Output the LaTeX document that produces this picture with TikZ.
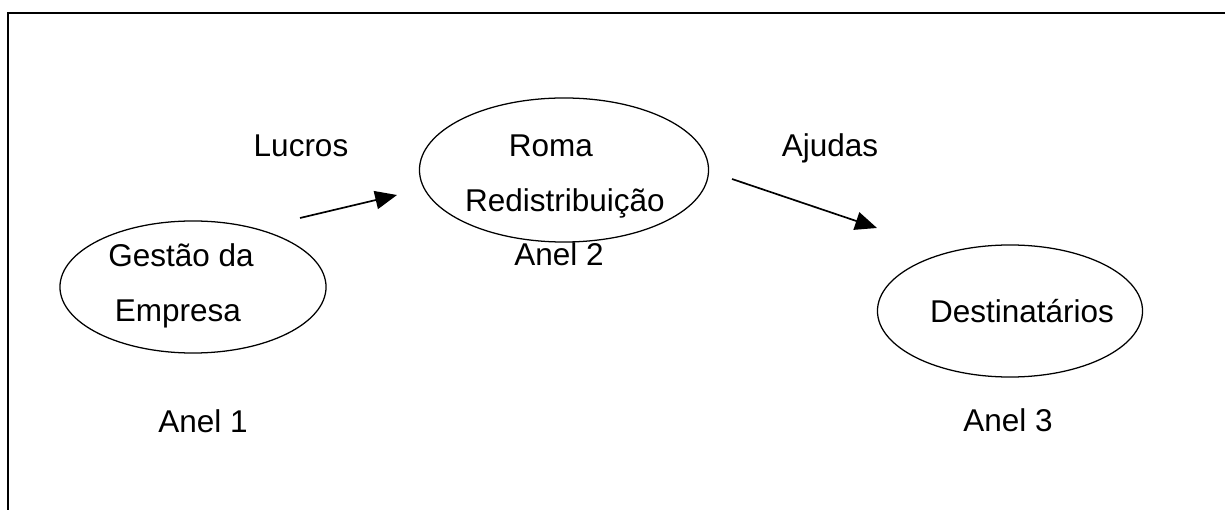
\documentclass[tikz,border=0pt]{standalone}
\usepackage{fontspec}
\setmainfont{Liberation Sans}
\usetikzlibrary{shapes,arrows.meta,positioning}

\begin{document}
\begin{tikzpicture}[x=0.025cm, y=-0.025cm,
			ring/.style={draw, ellipse, line width=0.9pt, inner sep=0pt},
			lbl/.style={anchor=base, inner sep=0pt, font=\fontsize{22.4}{26}\selectfont},
			flow/.style={-{Triangle[length=15.5pt,width=13pt]}, line width=1.2pt}
			]
			\useasboundingbox (0,0) rectangle (1225,510);
			% frame
			\draw[line width=1.4pt] (8,510) -- (8,13) -- (1225,13);
			
			% rings
			\node[ring, minimum width=6.65cm, minimum height=3.3cm] (gestao) at (193,287) {};
			\node[ring, minimum width=7.225cm, minimum height=3.6cm] (roma) at (564,170) {};
			\node[ring, minimum width=6.625cm, minimum height=3.3cm] (dest) at (1010,311) {};
			
			\node[lbl] (gestaoA) at (181,267) {Gestão da};
			\node[lbl] (gestaoB) at (178,322) {Empresa};
			\node[lbl] (romaA) at (551,157) {Roma};
			\node[lbl] (romaB) at (565,212) {Redistribuição};
			\node[lbl] (destA) at (1022,323) {Destinatários};
			
			\node[lbl] (anel1) at (203,433) {Anel 1};
			\node[lbl] (anel2) at (559,266) {Anel 2};
			\node[lbl] (anel3) at (1008,432) {Anel 3};
			
			\node[lbl] (lucros) at (301,157) {Lucros};
			\node[lbl] (ajudas) at (830,157) {Ajudas};
			
			% flows
			\coordinate (lucrosIn) at (300,218);
			\coordinate (lucrosOut) at (397,195);
			\coordinate (ajudasIn) at (732,179);
			\coordinate (ajudasOut) at (877,228);
			\draw[flow] (lucrosIn) -- (lucrosOut);
			\draw[flow] (ajudasIn) -- (ajudasOut);
		\end{tikzpicture}
\end{document}
